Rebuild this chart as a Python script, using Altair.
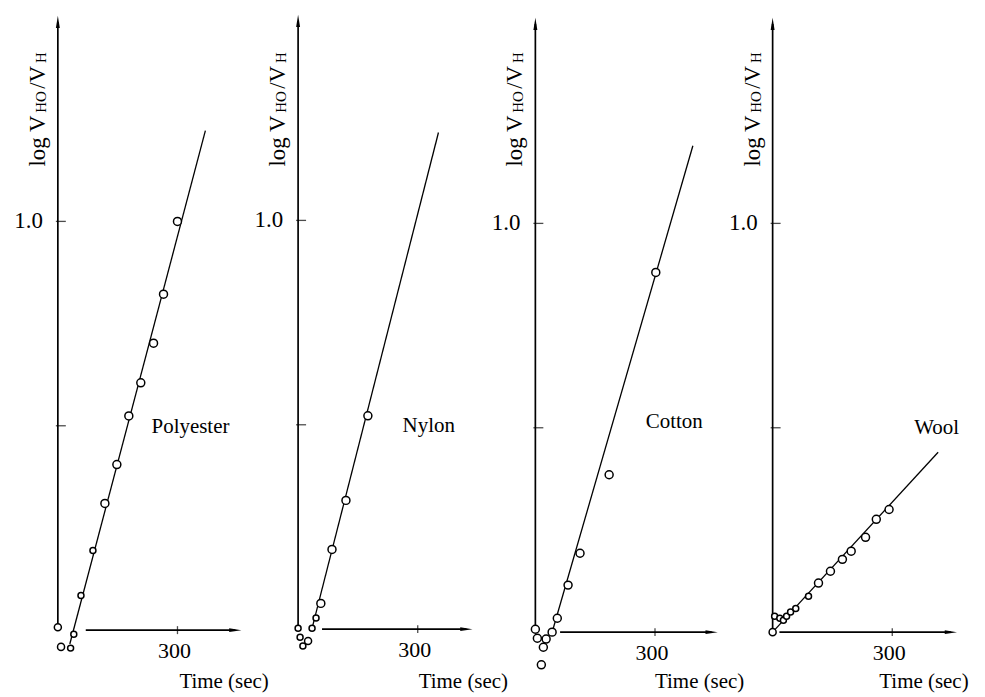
import altair as alt
import pandas as pd

# ---------------- data ----------------
fibers = ["Polyester", "Nylon", "Cotton", "Wool"]

poly_time = [0, 8, 32, 40, 58, 88, 118, 148, 178, 208, 240, 265, 300]
poly_logv = [0.007, -0.041, -0.044, -0.010, 0.085, 0.195, 0.310, 0.405, 0.524, 0.605, 0.702, 0.822, 1.000]
poly_kind = ["M", "M", "S", "S", "S", "S", "L", "L", "L", "L", "L", "L", "L"]

nylon_time = [0, 5, 12, 25, 35, 45, 57, 85, 120, 175]
nylon_logv = [0.002, -0.020, -0.041, -0.029, 0.002, 0.027, 0.063, 0.195, 0.315, 0.522]
nylon_kind = ["S", "S", "S", "M", "S", "S", "L", "L", "L", "L"]

cotton_time = [0, 5, 15, 20, 27, 42, 55, 82, 112, 185, 302]
cotton_logv = [0.007, -0.015, -0.080, -0.037, -0.017, 0.000, 0.034, 0.115, 0.193, 0.385, 0.880]
cotton_kind = ["L"] * 11

wool_time = [0, 5, 18, 27, 35, 45, 58, 90, 115, 145, 175, 197, 233, 260, 292]
wool_logv = [0.000, 0.039, 0.034, 0.029, 0.039, 0.049, 0.058, 0.088, 0.120, 0.149, 0.178, 0.198, 0.232, 0.276, 0.300]
wool_kind = ["M", "S", "S", "S", "S", "S", "S", "S", "L", "L", "L", "L", "L", "L", "L"]

# fitted straight lines: (start, end)
poly_fit_time, poly_fit_logv = [30, 370], [-0.034, 1.222]
nylon_fit_time, nylon_fit_logv = [37, 352], [0.010, 1.215]
cotton_fit_time, cotton_fit_logv = [40, 395], [-0.007, 1.190]
wool_fit_time, wool_fit_logv = [0, 415], [0.000, 0.440]

# axes
y_ticks = [0.5, 1.0]
y_tick_labels = ["", "1.0"]
x_ticks = [300]
x_tick_labels = ["300"]
x_axis_start = [70, 60, 62, 17]
x_axis_tip = [460, 437, 457, 462]
y_axis_top = 1.488
x_title = "Time (sec)"

series = {
    "Polyester": (poly_time, poly_logv, poly_kind, poly_fit_time, poly_fit_logv),
    "Nylon": (nylon_time, nylon_logv, nylon_kind, nylon_fit_time, nylon_fit_logv),
    "Cotton": (cotton_time, cotton_logv, cotton_kind, cotton_fit_time, cotton_fit_logv),
    "Wool": (wool_time, wool_logv, wool_kind, wool_fit_time, wool_fit_logv),
}

# ---------------- layout ----------------
FONT = "Liberation Serif"
PX_PER_S = 0.4        # pixels per second
PX_PER_UNIT = 410.0   # pixels per unit of log
H = 684
axis_page = [58, 299, 537, 775]
origin_page = [631, 630, 633, 633]
left_page = [8, 250, 490, 730]
widths = [242, 240, 240, 250]
name_pos = [(235, 0.483), (262, 0.483), (277, 0.500), (355, 0.485)]
time_title_dx = [122, 121, 120, 107]

UP = "M0,-1L0.32,1L-0.32,1Z"
RIGHT = "M1,0L-1,0.32L-1,-0.32Z"


def panel(i):
    name = fibers[i]
    t, v, k, ft, fv = series[name]
    ax = axis_page[i] - left_page[i]
    W = widths[i]
    xmin = -ax / PX_PER_S
    xmax = xmin + W / PX_PER_S
    ymax = (origin_page[i] - 8) / PX_PER_UNIT
    ymin = ymax - H / PX_PER_UNIT
    xs = alt.Scale(domain=[xmin, xmax], nice=False, zero=False)
    ys = alt.Scale(domain=[ymin, ymax], nice=False, zero=False)

    def X(f):
        return alt.X(f, type="quantitative", scale=xs, axis=None)

    def Y(f):
        return alt.Y(f, type="quantitative", scale=ys, axis=None)

    pts = pd.DataFrame({"t": t, "v": v, "kind": k})
    fit = pd.DataFrame({"t": ft, "v": fv})
    axes_df = pd.DataFrame({
        "x0": [0, x_axis_start[i]],
        "y0": [0, 0],
        "x1": [0, x_axis_tip[i] - 15],
        "y1": [y_axis_top, 0],
    })
    up_df = pd.DataFrame({"x": [0], "y": [y_axis_top]})
    right_df = pd.DataFrame({"x": [x_axis_tip[i] - 15], "y": [0]})
    yt = pd.DataFrame({"x": [0] * len(y_ticks), "y": y_ticks, "lab": y_tick_labels})
    xt = pd.DataFrame({"x": x_ticks, "y": [0] * len(x_ticks), "lab": x_tick_labels})
    nm = pd.DataFrame({"x": [name_pos[i][0]], "y": [name_pos[i][1]], "lab": [name]})
    one = pd.DataFrame({"a": [0]})

    layers = [
        alt.Chart(axes_df).mark_rule(color="black", strokeWidth=1.7).encode(
            x=X("x0"), y=Y("y0"), x2="x1", y2="y1"),
        alt.Chart(up_df).mark_point(shape=UP, size=150, filled=True, color="black", opacity=1).encode(
            x=X("x"), y=Y("y")),
        alt.Chart(right_df).mark_point(shape=RIGHT, size=150, filled=True, color="black", opacity=1).encode(
            x=X("x"), y=Y("y")),
        alt.Chart(yt).mark_tick(orient="horizontal", size=10, thickness=1.3, color="black", xOffset=3).encode(
            x=X("x"), y=Y("y")),
        alt.Chart(xt).mark_tick(orient="vertical", size=8, thickness=1.3, color="black").encode(
            x=X("x"), y=Y("y")),
        alt.Chart(yt).mark_text(font=FONT, fontSize=23, align="right", baseline="middle", dx=-15, color="black").encode(
            x=X("x"), y=Y("y"), text="lab:N"),
        alt.Chart(xt).mark_text(font=FONT, fontSize=22, align="center", baseline="alphabetic", dy=28, dx=-3, color="black").encode(
            x=X("x"), y=Y("y"), text="lab:N"),
        alt.Chart(fit).mark_line(color="black", strokeWidth=1.3).encode(x=X("t"), y=Y("v")),
        alt.Chart(pts).mark_point(shape="circle", filled=True, fill="white", stroke="black",
                                  strokeWidth=1.5, opacity=1, fillOpacity=1).encode(
            x=X("t"), y=Y("v"),
            size=alt.Size("kind:N", scale=alt.Scale(domain=["S", "M", "L"], range=[36, 64, 120]), legend=None)),
        alt.Chart(nm).mark_text(font=FONT, fontSize=21, align="left", baseline="alphabetic", color="black").encode(
            x=X("x"), y=Y("y"), text="lab:N"),
        alt.Chart(one).mark_text(font=FONT, fontSize=21, align="left", baseline="alphabetic", color="black",
                                 text=x_title).encode(
            x=alt.value(ax + time_title_dx[i]), y=alt.value(681)),
    ]
    bx = ax - 13
    title_parts = [("log V", 23, bx, 158), ("HO", 15, bx + 1, 104), ("/V", 23, bx, 80), ("H", 15, bx + 1, 54)]
    for txt, fs, px, py in title_parts:
        layers.append(
            alt.Chart(one).mark_text(font=FONT, fontSize=fs, angle=270, align="left", baseline="alphabetic",
                                     color="black", text=txt).encode(x=alt.value(px), y=alt.value(py)))
    return alt.layer(*layers).properties(width=W, height=H)


chart = alt.hconcat(*[panel(i) for i in range(4)], spacing=0, bounds="flush").resolve_scale(
    x="independent", y="independent", size="independent"
).properties(padding=0).configure_view(stroke=None)

chart.save("out.html", embed_options={"renderer": "svg", "actions": False})
